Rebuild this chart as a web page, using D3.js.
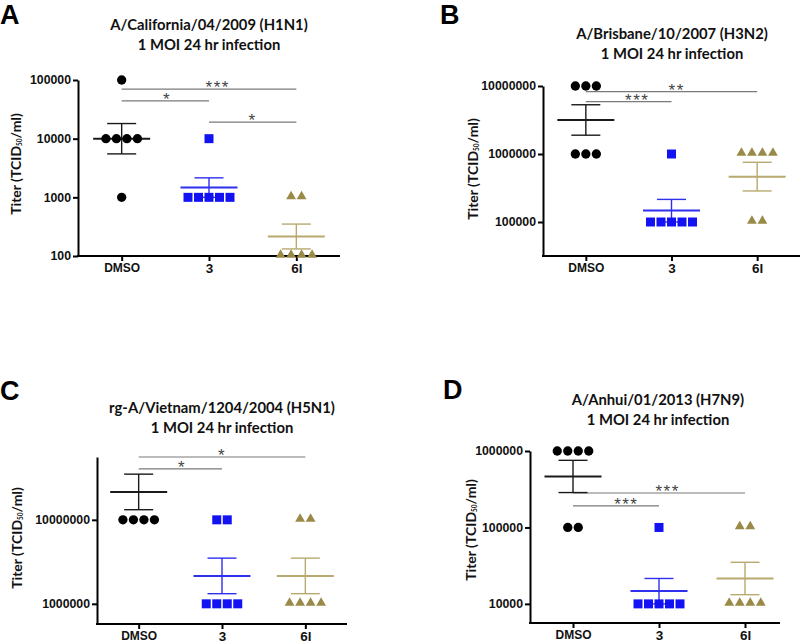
<!DOCTYPE html>
<html>
<head>
<meta charset="utf-8">
<script src="https://cdn.jsdelivr.net/npm/d3@7"></script>
<style>
  html, body { margin: 0; padding: 0; background: #fff; }
  svg { display: block; }
</style>
</head>
<body>
<svg id="chart" width="800" height="643"></svg>
<script>
// ---------------- DATA ----------------
const groups = ["DMSO", "3", "6l"];
const panelLetters = ["A", "B", "C", "D"];
const titleLine1 = ["A/California/04/2009 (H1N1)", "A/Brisbane/10/2007 (H3N2)", "rg-A/Vietnam/1204/2004 (H5N1)", "A/Anhui/01/2013 (H7N9)"];
const titleLine2 = ["1 MOI 24 hr infection", "1 MOI 24 hr infection", "1 MOI 24 hr infection", "1 MOI 24 hr infection"];

// y-axis domains and tick values
const yDomainA = [100, 100000];
const yDomainB = [31623, 10000000];
const yDomainC = [575000, 56000000];
const yDomainD = [5623, 1000000];
const yTicksA = [100, 1000, 10000, 100000];
const yTicksB = [100000, 1000000, 10000000];
const yTicksC = [1000000, 10000000];
const yTicksD = [10000, 100000, 1000000];

// individual titers (TCID50/ml) per group: [DMSO, 3, 6l]
const pointsA = [
  [100000, 10000, 10000, 10000, 10000, 1000],
  [10000, 1000, 1000, 1000, 1000, 1000],
  [1000, 1000, 100, 100, 100, 100]
];
const pointsB = [
  [10000000, 10000000, 10000000, 1000000, 1000000, 1000000],
  [1000000, 100000, 100000, 100000, 100000, 100000],
  [1000000, 1000000, 1000000, 1000000, 100000, 100000]
];
const pointsC = [
  [10000000, 10000000, 10000000, 10000000],
  [10000000, 10000000, 1000000, 1000000, 1000000, 1000000],
  [10000000, 10000000, 1000000, 1000000, 1000000, 1000000]
];
const pointsD = [
  [1000000, 1000000, 1000000, 1000000, 100000, 100000],
  [100000, 10000, 10000, 10000, 10000, 10000],
  [100000, 100000, 10000, 10000, 10000, 10000]
];

// mean line and error bar ends per group [DMSO, 3, 6l]
const meanA = [10000, 1470, 215];
const upperA = [18100, 2150, 350];
const lowerA = [5500, 1000, 132];
const meanB = [3160000, 147000, 464000];
const upperB = [5300000, 215000, 755000];
const lowerB = [1890000, 100000, 286000];
const meanC = [21500000, 2150000, 2150000];
const upperC = [35000000, 3500000, 3500000];
const lowerC = [13200000, 1320000, 1320000];
const meanD = [464000, 14700, 21500];
const upperD = [755000, 21500, 35000];
const lowerD = [286000, 10000, 13200];

// significance brackets: [from group, to group, height (data units), label, label position along bar]
const sigA = [["DMSO", "6l", 70000, "***", 0.55], ["DMSO", "3", 44000, "*", 0.52], ["3", "6l", 19200, "*", 0.5]];
const sigB = [["DMSO", "6l", 8250000, "**", 0.53], ["DMSO", "3", 5880000, "***", 0.6]];
const sigC = [["DMSO", "6l", 56000000, "*", 0.5], ["DMSO", "3", 40500000, "*", 0.52]];
const sigD = [["DMSO", "6l", 282000, "***", 0.55], ["DMSO", "3", 191000, "***", 0.62]];

// ---------------- LAYOUT / STYLE ----------------
const panels = [
  { yDomain: yDomainA, yTicks: yTicksA, points: pointsA, mean: meanA, upper: upperA, lower: lowerA, sig: sigA,
    x0: 78, x1: 340, xEnd: 340, yTop: 80, yBot: 256, letterX: 0, letterY: 24, titleX: 209, titleY: 30, yTitleX: 15, yTitleY: 164 },
  { yDomain: yDomainB, yTicks: yTicksB, points: pointsB, mean: meanB, upper: upperB, lower: lowerB, sig: sigB,
    x0: 543, x1: 800, xEnd: 800, yTop: 86, yBot: 256, letterX: 440, letterY: 24, titleX: 672, titleY: 39, yTitleX: 472, yTitleY: 169 },
  { yDomain: yDomainC, yTicks: yTicksC, points: pointsC, mean: meanC, upper: upperC, lower: lowerC, sig: sigC,
    x0: 97, x1: 347, xEnd: 347, yTop: 457, yBot: 624, letterX: 0, letterY: 400, titleX: 222, titleY: 413, yTitleX: 16, yTitleY: 538 },
  { yDomain: yDomainD, yTicks: yTicksD, points: pointsD, mean: meanD, upper: upperD, lower: lowerD, sig: sigD,
    x0: 530, x1: 788, xEnd: 780, yTop: 451, yBot: 623, letterX: 443, letterY: 399, titleX: 658, titleY: 405, yTitleX: 470, yTitleY: 530 }
];

const pointColor = ["#000000", "#1212f2", "#9a8a48"];
const lineColor = ["#1a1a1a", "#2f2ff0", "#b8a96e"];
const symbols = [d3.symbolCircle, d3.symbolSquare, d3.symbolTriangle];
const symbolSizes = [68, 81, 42];
const spacing = 10.5;
const meanHalf = 28.5, capHalf = 14.5;

const svg = d3.select("#chart");
const boldSans = "'Liberation Sans', Arial, sans-serif";
const titleFont = "Lato, 'Open Sans', sans-serif";

panels.forEach((p, pi) => {
  const g = svg.append("g");
  const x = d3.scalePoint().domain(groups).range([p.x0, p.x1]).padding(0.5);
  const y = d3.scaleLog().domain(p.yDomain).range([p.yBot, p.yTop]);

  // panel letter
  g.append("text").attr("x", p.letterX).attr("y", p.letterY)
    .attr("font-family", boldSans).attr("font-weight", "bold").attr("font-size", 27)
    .text(panelLetters[pi]);

  // title
  const t = g.append("text").attr("text-anchor", "middle")
    .attr("font-family", titleFont).attr("font-weight", "bold").attr("font-size", 14.8).attr("fill", "#111");
  t.append("tspan").attr("x", p.titleX).attr("y", p.titleY).text(titleLine1[pi]);
  t.append("tspan").attr("x", p.titleX).attr("y", p.titleY + 19.5).text(titleLine2[pi]);

  // y axis
  const yAxis = d3.axisLeft(y).tickValues(p.yTicks).tickFormat(d3.format("d"))
    .tickSize(5).tickSizeOuter(0).tickPadding(2);
  const ya = g.append("g").attr("transform", `translate(${p.x0},0)`).call(yAxis);
  ya.select(".domain").attr("stroke", "#000").attr("stroke-width", 2);
  ya.selectAll(".tick line").attr("stroke", "#000").attr("stroke-width", 2);
  ya.selectAll(".tick text").attr("font-family", boldSans).attr("font-weight", "bold")
    .attr("font-size", 12.3).attr("fill", "#111");

  // x axis
  const xAxis = d3.axisBottom(x).tickSize(5).tickSizeOuter(0).tickPadding(2);
  const xa = g.append("g").attr("transform", `translate(0,${p.yBot})`).call(xAxis);
  xa.select(".domain").remove();
  xa.append("line").attr("x1", p.x0 - 1).attr("x2", p.xEnd).attr("y1", 0).attr("y2", 0)
    .attr("stroke", "#000").attr("stroke-width", 2);
  xa.selectAll(".tick line").attr("stroke", "#000").attr("stroke-width", 2);
  xa.selectAll(".tick text").attr("font-family", boldSans).attr("font-weight", "bold")
    .attr("font-size", d => d === "DMSO" ? 12 : 13.5).attr("fill", "#111");

  // y axis title
  const yt = g.append("text")
    .attr("transform", `translate(${p.yTitleX},${p.yTitleY}) rotate(-90)`)
    .attr("text-anchor", "middle").attr("dominant-baseline", "central")
    .attr("font-family", titleFont).attr("font-weight", "bold").attr("font-size", 14).attr("fill", "#111");
  yt.append("tspan").text("Titer (TCID");
  yt.append("tspan").attr("font-size", 6.5).attr("dy", 4).text("50");
  yt.append("tspan").attr("dy", -4).text("/ml)");

  // significance brackets
  p.sig.forEach(s => {
    const xa1 = x(s[0]), xa2 = x(s[1]), yy = y(s[2]);
    g.append("line").attr("x1", xa1).attr("x2", xa2).attr("y1", yy).attr("y2", yy)
      .attr("stroke", "#7a7a7a").attr("stroke-width", 1.2);
    g.append("text").attr("x", xa1 + (xa2 - xa1) * s[4]).attr("y", yy + 4)
      .attr("text-anchor", "middle").attr("font-family", boldSans).attr("font-size", 17)
      .attr("letter-spacing", 1.5).attr("fill", "#444").text(s[3]);
  });

  // mean and error bars
  groups.forEach((grp, gi) => {
    const cx = x(grp);
    const c = lineColor[gi];
    g.append("line").attr("x1", cx).attr("x2", cx).attr("y1", y(p.upper[gi])).attr("y2", y(p.lower[gi]))
      .attr("stroke", c).attr("stroke-width", 1.4);
    [p.upper[gi], p.lower[gi]].forEach(v => {
      g.append("line").attr("x1", cx - capHalf).attr("x2", cx + capHalf).attr("y1", y(v)).attr("y2", y(v))
        .attr("stroke", c).attr("stroke-width", 1.4);
    });
    g.append("line").attr("x1", cx - meanHalf).attr("x2", cx + meanHalf).attr("y1", y(p.mean[gi])).attr("y2", y(p.mean[gi]))
      .attr("stroke", c).attr("stroke-width", 2);
  });

  // points (column scatter: equal values spread side by side)
  groups.forEach((grp, gi) => {
    const vals = p.points[gi];
    const byVal = d3.group(vals, v => v);
    byVal.forEach((arr, v) => {
      const n = arr.length;
      arr.forEach((_, i) => {
        const px = x(grp) + (i - (n - 1) / 2) * spacing;
        const py = y(v) + (gi === 2 ? -1 : 0);
        g.append("path")
          .attr("d", d3.symbol().type(symbols[gi]).size(symbolSizes[gi])())
          .attr("transform", `translate(${px},${py})`)
          .attr("fill", pointColor[gi]);
      });
    });
  });
});
</script>
</body>
</html>
